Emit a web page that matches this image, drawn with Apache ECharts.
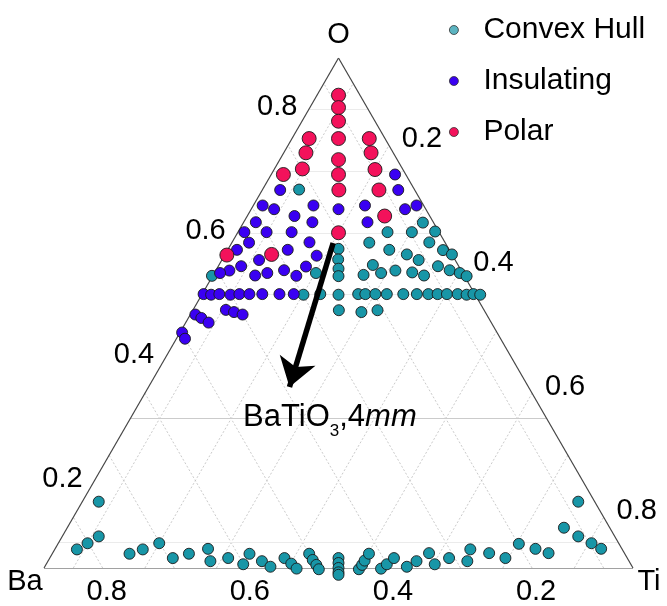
<!DOCTYPE html>
<html><head><meta charset="utf-8">
<script src="https://cdn.jsdelivr.net/npm/echarts@6/dist/echarts.min.js"></script>
<style>html,body{margin:0;padding:0;background:#fff}#c{width:667px;height:606px}</style>
</head><body><div id="c"></div>
<script>
// ---- DATA: compositions [Ba, Ti, O] ----
const seriesNames = ['Convex Hull', 'Insulating', 'Polar'];
const convexHull = [
  [0.220,0.110,0.669],[0.412,0.058,0.531],[0.264,0.201,0.535],
  [0.213,0.213,0.574],[0.222,0.221,0.557],[0.229,0.229,0.542],[0.235,0.235,0.530],
  [0.250,0.250,0.500],[0.262,0.263,0.475],
  [0.131,0.268,0.601],[0.097,0.302,0.601],[0.064,0.334,0.602],[0.074,0.310,0.617],
  [0.165,0.251,0.584],[0.081,0.335,0.585],[0.143,0.285,0.573],[0.122,0.313,0.565],
  [0.068,0.360,0.572],[0.178,0.274,0.548],[0.110,0.334,0.556],[0.059,0.376,0.565],
  [0.151,0.310,0.539],[0.129,0.335,0.536],[0.088,0.366,0.546],[0.075,0.386,0.540],
  [0.063,0.402,0.535],[0.056,0.414,0.530],[0.199,0.269,0.532],[0.173,0.292,0.535],
  [0.115,0.354,0.531],
  [0.299,0.201,0.500],[0.275,0.224,0.501],[0.222,0.277,0.501],[0.212,0.287,0.501],
  [0.198,0.301,0.501],[0.182,0.317,0.501],[0.159,0.340,0.501],[0.140,0.359,0.501],
  [0.124,0.375,0.501],[0.111,0.388,0.501],[0.098,0.401,0.501],[0.083,0.416,0.501],
  [0.071,0.429,0.500],[0.061,0.438,0.501],[0.052,0.448,0.500],
  [0.232,0.296,0.472],[0.208,0.317,0.475],
  [0.752,0.082,0.166],[0.780,0.110,0.110],[0.802,0.100,0.099],[0.821,0.090,0.089],
  [0.751,0.167,0.082],[0.729,0.182,0.089],[0.701,0.200,0.099],[0.694,0.231,0.075],
  [0.668,0.250,0.082],[0.638,0.273,0.090],[0.644,0.286,0.070],[0.616,0.308,0.075],
  [0.584,0.335,0.082],[0.600,0.334,0.065],[0.572,0.358,0.070],[0.564,0.374,0.061],
  [0.538,0.387,0.075],[0.533,0.401,0.066],[0.529,0.412,0.058],[0.500,0.418,0.082],
  [0.500,0.428,0.072],[0.499,0.437,0.064],[0.499,0.444,0.057],
  [0.462,0.462,0.075],[0.466,0.466,0.067],[0.470,0.470,0.059],[0.474,0.474,0.052],[0.476,0.476,0.048],
  [0.443,0.500,0.057],[0.435,0.501,0.064],[0.428,0.501,0.071],[0.416,0.501,0.082],
  [0.412,0.531,0.058],[0.400,0.535,0.065],[0.385,0.540,0.075],[0.374,0.565,0.061],
  [0.356,0.574,0.070],[0.332,0.585,0.083],[0.333,0.602,0.065],[0.308,0.617,0.075],
  [0.285,0.645,0.070],[0.271,0.639,0.089],[0.248,0.669,0.083],[0.229,0.695,0.075],
  [0.199,0.703,0.098],[0.180,0.731,0.090],[0.165,0.752,0.083],[0.123,0.753,0.124],
  [0.082,0.752,0.166],[0.110,0.780,0.110],[0.097,0.804,0.099],[0.088,0.822,0.090]
];
const insulating = [
  [0.074,0.232,0.694],[0.082,0.249,0.669],[0.247,0.084,0.669],
  [0.284,0.072,0.644],[0.271,0.091,0.638],[0.213,0.143,0.644],[0.181,0.181,0.638],
  [0.141,0.215,0.644],[0.088,0.274,0.638],[0.069,0.287,0.644],
  [0.307,0.076,0.617],[0.248,0.125,0.627],[0.228,0.155,0.617],[0.151,0.232,0.617],
  [0.331,0.068,0.601],[0.300,0.099,0.601],[0.265,0.134,0.601],
  [0.333,0.083,0.584],[0.248,0.167,0.584],[0.356,0.072,0.573],[0.285,0.143,0.573],
  [0.249,0.188,0.563],
  [0.383,0.078,0.539],[0.363,0.091,0.546],[0.333,0.111,0.556],[0.398,0.067,0.535],
  [0.351,0.118,0.531],[0.332,0.133,0.535],[0.306,0.154,0.539],[0.294,0.176,0.531],
  [0.273,0.182,0.546],
  [0.438,0.061,0.501],[0.428,0.072,0.500],[0.416,0.083,0.501],[0.401,0.099,0.500],
  [0.388,0.111,0.501],[0.374,0.125,0.501],[0.356,0.143,0.501],[0.332,0.167,0.501],
  [0.312,0.187,0.501],
  [0.420,0.105,0.476],[0.410,0.118,0.472],[0.400,0.132,0.468],
  [0.466,0.066,0.468],[0.460,0.077,0.462],[0.454,0.091,0.455],
  [0.499,0.062,0.439],[0.500,0.071,0.429]
];
const polar = [
  [0.089,0.089,0.822],[0.099,0.099,0.802],[0.110,0.110,0.780],[0.124,0.124,0.752],
  [0.141,0.141,0.718],[0.153,0.153,0.694],[0.165,0.166,0.669],[0.200,0.200,0.600],
  [0.165,0.083,0.752],[0.181,0.090,0.729],[0.199,0.098,0.703],[0.230,0.076,0.694],
  [0.081,0.167,0.752],[0.090,0.181,0.729],[0.098,0.200,0.702],[0.109,0.222,0.669],
  [0.122,0.251,0.627],
  [0.374,0.062,0.564],[0.311,0.124,0.565]
];
const tickValues = [0.2, 0.4, 0.6, 0.8];
const gridValues = [0.1, 0.2, 0.3, 0.4, 0.5, 0.6, 0.7, 0.8];
const oGridFaint = [0.1, 0.5, 0.6, 0.7, 0.8];
const oGridStrong = [0.3];
const cornerNames = ['Ba', 'Ti', 'O'];
const annotationText = ['BaTiO', '3', ',4', 'mm'];
const arrowFrom = [0.216, 0.201, 0.584];
const arrowTo = [0.393, 0.256, 0.351];
const annotationAt = [0.360, 0.336, 0.302];

// ---- ternary geometry ----
const axisMin = 0.059;           // each component's value at the opposite edge
const span = 1 - 3 * axisMin;
const H = Math.sqrt(3) / 2;
function toXY(c) {
  const t = c[0] + c[1] + c[2];
  const ti = (c[1] / t - axisMin) / span;
  const o = (c[2] / t - axisMin) / span;
  return [ti + o / 2, o * H];
}
const m = axisMin;
const cBa = [1 - 2 * m, m, m], cTi = [m, 1 - 2 * m, m], cO = [m, m, 1 - 2 * m];

const FONT = '"Liberation Sans", Arial, Helvetica, sans-serif';
const TXT = { fontFamily: FONT, color: '#000', textBorderWidth: 0, textShadowBlur: 0, opacity: 1 };
const seg = (a, b) => ({ coords: [toXY(a), toXY(b)] });

const dotted = gridValues.flatMap(v => [
  seg([1 - v - m, v, m], [m, v, 1 - v - m]),
  seg([v, 1 - v - m, m], [v, m, 1 - v - m])
]);
const oFaint = oGridFaint.map(v => seg([1 - v - m, m, v], [m, 1 - v - m, v]));
const oStrong = oGridStrong.map(v => seg([1 - v - m, m, v], [m, 1 - v - m, v]));

const textOnly = { type: 'scatter', symbolSize: 0, silent: true, clip: false, z: 8,
  itemStyle: { opacity: 1 }, emphasis: { disabled: true } };

function tickSeries(pointFn, off) {
  return Object.assign({}, textOnly, {
    data: tickValues.map(v => toXY(pointFn(v)).concat([v.toFixed(1)])),
    label: Object.assign({ show: true, position: 'inside', offset: off, formatter: p => p.value[2],
      fontSize: 29, align: 'center', verticalAlign: 'middle' }, TXT)
  });
}

const chart = echarts.init(document.getElementById('c'), null, { renderer: 'canvas' });
const colors = ['#1896a7', '#3a00f2', '#f3125b'];
const legendColors = ['#5cb4c1', '#3a00f2', '#f3125b'];
const groups = [convexHull, insulating, polar];
const sizes = [11, 11, 14];

chart.setOption({
  animation: false,
  grid: { left: 44, right: 34, top: 58, bottom: 38 },
  xAxis: { type: 'value', min: 0, max: 1, show: false },
  yAxis: { type: 'value', min: 0, max: H, show: false },
  legend: {
    orient: 'vertical', left: 444, top: 10, itemGap: 21, itemWidth: 25, itemHeight: 9,
    icon: 'circle', selectedMode: false,
    textStyle: Object.assign({ fontSize: 30, lineHeight: 30, padding: [0, 0, 0, 12] }, TXT),
    data: seriesNames.map((n, i) => ({ name: n, itemStyle: { color: legendColors[i], borderColor: '#333', borderWidth: 0.8 } }))
  },
  series: [
    { type: 'lines', coordinateSystem: 'cartesian2d', silent: true, z: 1, data: dotted,
      lineStyle: { color: '#bdbdbd', width: 0.8, type: [2, 2], opacity: 1 } },
    { type: 'lines', coordinateSystem: 'cartesian2d', silent: true, z: 1, data: oFaint,
      lineStyle: { color: '#ebebeb', width: 1, opacity: 1 } },
    { type: 'lines', coordinateSystem: 'cartesian2d', silent: true, z: 1, data: oStrong,
      lineStyle: { color: '#cbcbcb', width: 1, opacity: 1 } },
    { type: 'lines', coordinateSystem: 'cartesian2d', silent: true, z: 2,
      data: [seg(cBa, cTi), seg(cTi, cO), seg(cO, cBa)],
      lineStyle: { color: '#444', width: 1.2, opacity: 1 } },
    ...groups.map((g, i) => ({
      name: seriesNames[i], type: 'scatter', clip: false, z: 3 + i,
      symbolSize: sizes[i], data: g.map(toXY),
      itemStyle: { color: colors[i], borderColor: '#1a1a1a', borderWidth: 0.9, opacity: 1 },
      emphasis: { disabled: true }
    })),
    { type: 'lines', coordinateSystem: 'cartesian2d', silent: true, z: 7,
      symbol: ['none', 'arrow'], symbolSize: 28,
      data: [seg(arrowFrom, arrowTo)],
      lineStyle: { color: '#000', width: 5.5, opacity: 1 } },
    tickSeries(v => [1 - v - m, m, v], [-32, -2]),
    tickSeries(v => [m, v, 1 - v - m], [33, -6]),
    tickSeries(v => [v, 1 - v - m, m], [4, 24]),
    Object.assign({}, textOnly, {
      data: [toXY(cBa).concat([cornerNames[0], -19, 14]), toXY(cTi).concat([cornerNames[1], 16, 14]), toXY(cO).concat([cornerNames[2], 0, -23])]
        .map(d => ({ value: d.slice(0, 3), label: { offset: [d[3], d[4]] } })),
      label: Object.assign({ show: true, position: 'inside', formatter: p => p.value[2],
        fontSize: 29, align: 'center', verticalAlign: 'middle' }, TXT) }),
    Object.assign({}, textOnly, {
      data: [toXY(annotationAt)],
      label: Object.assign({ show: true, position: 'inside', align: 'center', verticalAlign: 'middle',
        formatter: '{a|' + annotationText[0] + '}{s|' + annotationText[1] + '}{a|' + annotationText[2] + '}{i|' + annotationText[3] + '}',
        rich: {
          a: Object.assign({ fontSize: 31, lineHeight: 46, verticalAlign: 'middle' }, TXT),
          s: Object.assign({ fontSize: 17, lineHeight: 17, verticalAlign: 'bottom' }, TXT),
          i: Object.assign({ fontSize: 31, lineHeight: 46, verticalAlign: 'middle', fontStyle: 'italic' }, TXT)
        } }, TXT) })
  ]
});
</script></body></html>
